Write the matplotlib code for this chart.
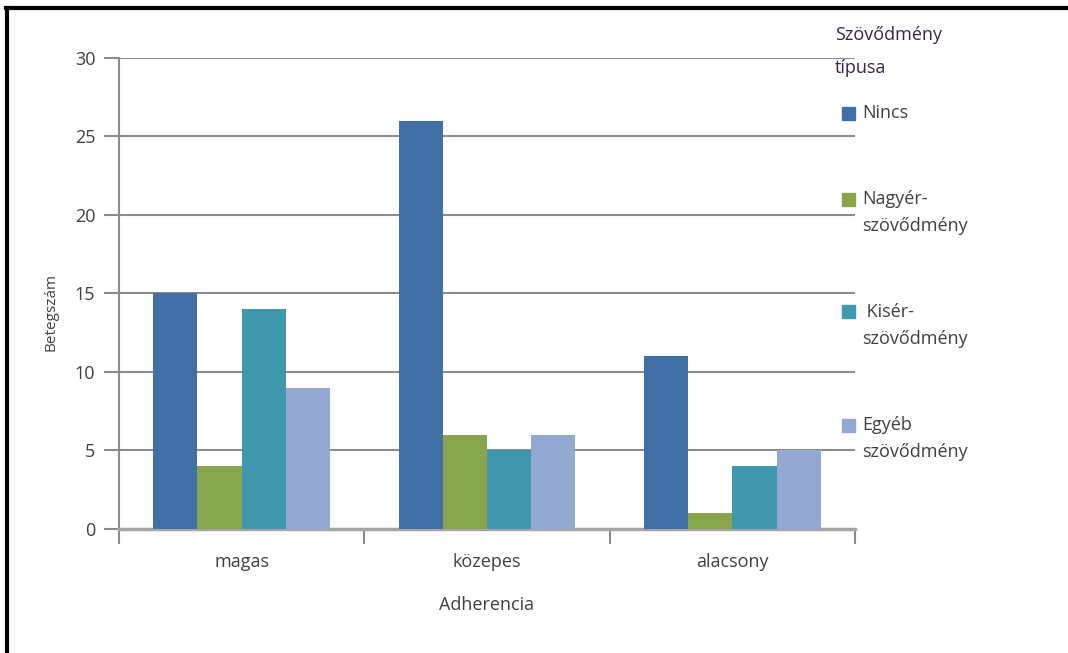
import numpy as np
import matplotlib.pyplot as plt
from matplotlib.lines import Line2D
from matplotlib.patches import Rectangle

# Data
categories = ['magas', 'közepes', 'alacsony']
series_names = ['Nincs', 'Nagyér-\nszövődmény', ' Kisér-\nszövődmény', 'Egyéb\nszövődmény']
nincs = [15, 26, 11]
nagyer = [4, 6, 1]
kiser = [14, 5, 4]
egyeb = [9, 6, 5]
yticks = [0, 5, 10, 15, 20, 25, 30]

colors = ['#4170A6', '#88A54B', '#4198AE', '#93A9D1']
text_color = '#404040'
grid_color = '#8c8c8c'

plt.rcParams['font.family'] = ['Open Sans', 'DejaVu Sans']
fs = 13

W, H = 1068, 653
fig = plt.figure(figsize=(W / 100, H / 100), dpi=100)
ax = fig.add_axes([0.1114, 0.1899, 0.6892, 0.7213])

x = np.arange(len(categories))
bar_w = 0.18
values = [nincs, nagyer, kiser, egyeb]
for i, (vals, c) in enumerate(zip(values, colors)):
    ax.bar(x + (i - 1.5) * bar_w, vals, width=bar_w, color=c, zorder=3)

ax.set_xlim(-0.5, len(categories) - 0.5)
ax.set_ylim(0, 30)
ax.set_yticks(yticks)
ax.yaxis.grid(True, color=grid_color, linewidth=1.5, zorder=0)
ax.set_axisbelow(True)

ax.set_xticks(x)
ax.set_xticklabels(categories)
ax.tick_params(axis='x', length=0, pad=17, labelsize=fs, labelcolor=text_color)
ax.tick_params(axis='y', length=11, width=1.5, color=grid_color, pad=6,
               labelsize=fs, labelcolor=text_color)

# category boundary ticks on x axis
ax.set_xticks(np.arange(len(categories) + 1) - 0.5, minor=True)
ax.tick_params(axis='x', which='minor', length=11, width=1.5, color=grid_color)

for s in ['top', 'right']:
    ax.spines[s].set_visible(False)
ax.spines['left'].set_color(grid_color)
ax.spines['left'].set_linewidth(1.5)
ax.spines['bottom'].set_color('#a6a6a6')
ax.spines['bottom'].set_linewidth(2.5)

ax.set_xlabel('Adherencia', fontsize=fs, color=text_color, labelpad=18)
ax.set_ylabel('Betegszám', fontsize=11, color=text_color)
ax.yaxis.set_label_coords(-0.082, 0.46)

# legend (built by hand: marker sits on the first line of each label)
fig.text(835 / W, 1 - 26 / H, 'Szövődmény\ntípusa', fontsize=fs, color='#35283f',
         ha='left', va='top', linespacing=2.1)

line_h = 27
gap = 59
y_px = 113
for name, c in zip(series_names, colors):
    fig.add_artist(Rectangle((842 / W, 1 - (y_px + 6.5) / H), 13 / W, 13 / H,
                             transform=fig.transFigure, color=c))
    lines = name.split('\n')
    for k, ln in enumerate(lines):
        fig.text(862 / W, 1 - (y_px + k * line_h) / H, ln, fontsize=fs,
                 color=text_color, ha='left', va='center')
    y_px += len(lines) * line_h + gap

# frame lines (top and left) of the picture
fig.add_artist(Line2D([0.0056, 1.0], [0.9875, 0.9875], transform=fig.transFigure,
                      color='black', linewidth=3))
fig.add_artist(Line2D([0.0061, 0.0061], [0.0, 0.9875], transform=fig.transFigure,
                      color='black', linewidth=3))

fig.savefig('out.png', dpi=100)
